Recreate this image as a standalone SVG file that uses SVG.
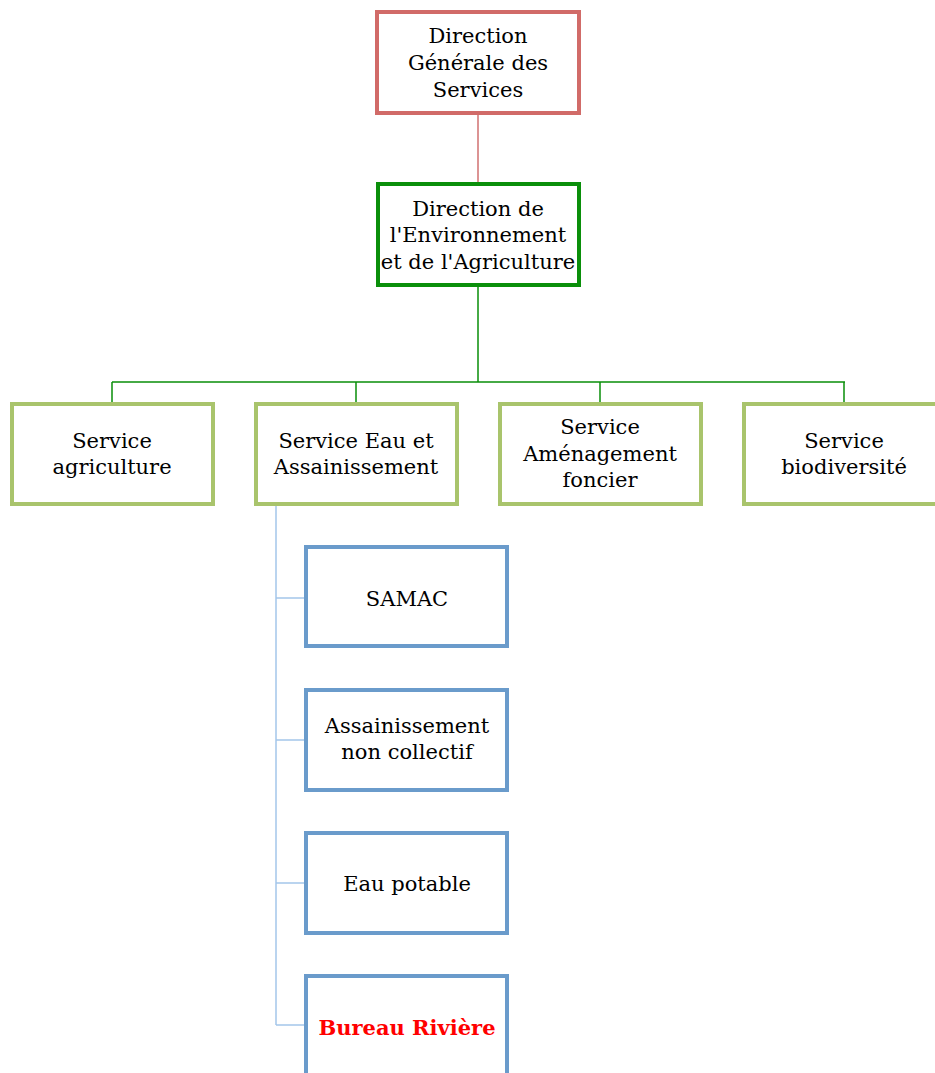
<svg xmlns="http://www.w3.org/2000/svg" width="935" height="1073" viewBox="0 0 935 1073">
<style>
text{font-family:"DejaVu Serif","Liberation Serif",serif;font-size:21px;fill:#000;text-anchor:middle}
.box{fill:#fff;stroke-width:4}
.red{stroke:#D16B68}
.dg{stroke:#0A8F0A}
.lg{stroke:#A9C46C}
.bl{stroke:#6A9BCB}
.c{fill:none;stroke-width:1.5}
.bold{font-weight:bold;fill:#FF0000}
</style>
<rect width="935" height="1073" fill="#fff"/>
<g id="connectors">
<path class="c" stroke="#D07070" d="M478 113V184"/>
<path class="c" stroke="#0A8F0A" stroke-width="2" d="M478 285V382M112 382H845M112 382V404M356 382V404M600 382V404M844 382V404"/>
<path class="c" stroke="#A4C6EA" d="M276 506V1025M276 598H306M276 740H306M276 883H306M276 1025H306"/>
</g>
<g id="dgs"><rect class="box red" x="377" y="12" width="202" height="101"/>
<text x="478" y="43">Direction</text><text x="478" y="70">Générale des</text><text x="478" y="97">Services</text></g>
<g id="dea"><rect class="box dg" x="378" y="184" width="201" height="101"/>
<text x="478" y="216">Direction de</text><text x="478" y="242">l'Environnement</text><text x="478" y="269">et de l'Agriculture</text></g>
<g id="agri"><rect class="box lg" x="12" y="404" width="201" height="100"/>
<text x="112" y="448">Service</text><text x="112" y="474">agriculture</text></g>
<g id="eau"><rect class="box lg" x="256" y="404" width="201" height="100"/>
<text x="356" y="448">Service Eau et</text><text x="356" y="474">Assainissement</text></g>
<g id="amen"><rect class="box lg" x="500" y="404" width="201" height="100"/>
<text x="600" y="434">Service</text><text x="600" y="461">Aménagement</text><text x="600" y="487">foncier</text></g>
<g id="bio"><rect class="box lg" x="744" y="404" width="201" height="100"/>
<text x="844" y="448">Service</text><text x="844" y="474">biodiversité</text></g>
<g id="samac"><rect class="box bl" x="306" y="547" width="201" height="99"/>
<text x="407" y="606">SAMAC</text></g>
<g id="anc"><rect class="box bl" x="306" y="690" width="201" height="100"/>
<text x="407" y="733">Assainissement</text><text x="407" y="759">non collectif</text></g>
<g id="ep"><rect class="box bl" x="306" y="833" width="201" height="100"/>
<text x="407" y="891">Eau potable</text></g>
<g id="br"><rect class="box bl" x="306" y="976" width="201" height="100"/>
<text class="bold" x="407" y="1035">Bureau Rivière</text></g>
</svg>
